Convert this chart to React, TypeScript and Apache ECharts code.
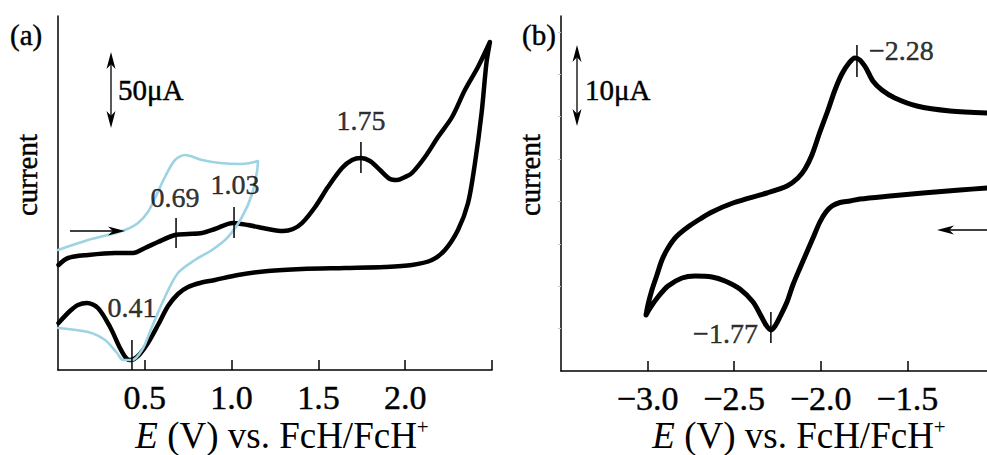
import React, { useEffect, useRef } from 'react';
import * as echarts from 'echarts';

const FONT = "'Liberation Serif', 'Times New Roman', serif";

// Panel (a): potential (V) vs current (a.u., 50 µA ≈ 76 units)
const xTicksA = [0.5, 1.0, 1.5, 2.0, 2.5];
const xLabelsA = [0.5, 1.0, 1.5, 2.0];
// Panel (b)
const xTicksB = [-3.0, -2.5, -2.0, -1.5];
const xLabelsB = [-3.0, -2.5, -2.0, -1.5];
const yTicksB = [42.4, 84.8, 127.2, 169.6, 212, 254.4, 296.8, 339.2];

const blackA: number[][] = [
  [0.003, 105], [0.058, 112], [0.173, 115], [0.328, 117], [0.432, 117], [0.501, 122], [0.576, 128],
  [0.674, 135], [0.749, 136], [0.829, 137], [0.904, 141], [1.008, 147], [1.094, 145], [1.210, 141],
  [1.296, 139], [1.354, 141], [1.406, 147], [1.481, 163], [1.555, 183], [1.636, 202], [1.694, 210],
  [1.745, 212], [1.797, 209], [1.855, 200], [1.912, 191], [1.953, 190], [1.999, 193], [2.039, 197],
  [2.114, 213], [2.189, 233], [2.270, 253], [2.344, 280], [2.419, 303], [2.488, 328],
  [2.468, 307], [2.440, 257], [2.402, 207], [2.362, 167], [2.304, 140], [2.229, 120], [2.154, 110],
  [2.039, 105], [1.884, 103], [1.653, 102], [1.406, 101], [1.210, 99], [1.037, 95], [0.904, 90],
  [0.818, 87], [0.749, 83], [0.691, 76], [0.634, 64], [0.576, 45], [0.518, 27], [0.472, 16],
  [0.438, 11], [0.415, 10], [0.392, 12], [0.357, 22], [0.300, 43], [0.230, 62], [0.167, 67],
  [0.115, 65], [0.069, 59], [0.003, 47],
];

const blueA: number[][] = [
  [0.000, 120], [0.173, 130], [0.288, 135], [0.386, 140], [0.461, 147], [0.518, 158], [0.559, 172],
  [0.616, 193], [0.674, 210], [0.732, 215], [0.829, 210], [0.933, 207], [1.048, 206], [1.106, 207],
  [1.152, 209],
  [1.146, 198], [1.118, 176], [1.060, 153], [0.979, 133], [0.887, 120], [0.789, 110], [0.691, 97],
  [0.616, 73], [0.541, 43], [0.484, 20], [0.426, 10], [0.374, 10], [0.340, 17], [0.271, 30],
  [0.173, 38], [0.000, 42],
];

const blackB: number[][] = [
  [-1.040, 183], [-1.196, 181], [-1.410, 178], [-1.600, 175], [-1.774, 172], [-1.831, 170],
  [-1.889, 168.5], [-1.935, 165], [-1.970, 159], [-2.005, 149], [-2.045, 133], [-2.080, 119],
  [-2.120, 103], [-2.161, 86], [-2.195, 69], [-2.236, 54], [-2.264, 45], [-2.288, 41], [-2.316, 46],
  [-2.351, 57], [-2.391, 69], [-2.467, 82], [-2.553, 90], [-2.628, 94], [-2.726, 95], [-2.801, 93],
  [-2.882, 85], [-2.940, 74], [-2.986, 63], [-3.009, 56], [-2.998, 66], [-2.975, 81], [-2.946, 96],
  [-2.917, 111], [-2.882, 123], [-2.836, 134], [-2.767, 144], [-2.697, 152], [-2.628, 159],
  [-2.507, 168], [-2.311, 178], [-2.195, 185], [-2.132, 193], [-2.091, 202], [-2.051, 216],
  [-2.005, 239], [-1.958, 261], [-1.918, 281], [-1.878, 297], [-1.837, 308], [-1.803, 313],
  [-1.774, 311], [-1.739, 303], [-1.699, 290], [-1.647, 281], [-1.572, 273], [-1.445, 265],
  [-1.254, 260], [-1.040, 258],
];

// peak markers: [x, yLow, yHigh]
const peakTicksA: number[][] = [[0.680, 122, 152], [1.014, 132, 163], [1.745, 197, 228], [0.426, 0, 30]];
const peakTextA = ['0.69', '1.03', '1.75', '0.41'];
const peakLabelPosA: number[][] = [[0.674, 172.5], [1.020, 186], [1.745, 250], [0.426, 63]];

const peakTicksB: number[][] = [[-1.791, 294, 326], [-2.288, 28, 59]];
const peakTextB = ['\u22122.28', '\u22121.77'];
const peakLabelPosB: number[][] = [[-1.534, 321], [-2.550, 38]];

const fmt = (v: number) => v.toFixed(1).replace('-', '\u2212');
const BW = 0.45; // slight text emboldening

function head(tx: number, ty: number, dx: number, dy: number, L = 17, W = 9) {
  const px = -dy, py = dx;
  const bx = tx - dx * L, by = ty - dy * L;
  const nx = tx - dx * L * 0.72, ny = ty - dy * L * 0.72;
  return {
    type: 'polygon',
    shape: { points: [[tx, ty], [bx + px * W / 2, by + py * W / 2], [nx, ny], [bx - px * W / 2, by - py * W / 2]] },
    style: { fill: '#000' },
    z: 100,
  };
}
function line(x1: number, y1: number, x2: number, y2: number, w = 1.3) {
  return { type: 'line', shape: { x1, y1, x2, y2 }, style: { stroke: '#000', lineWidth: w }, z: 100 };
}
function txt(text: string, x: number, y: number, size: number, opts: any = {}) {
  const style: any = {
    text, fontSize: size, fontFamily: FONT, fill: '#000', align: opts.align || 'left', verticalAlign: 'middle',
  };
  if (opts.rich) style.rich = opts.rich;
  else { style.stroke = '#000'; style.lineWidth = BW; }
  return { type: 'text', x, y, rotation: opts.rotation || 0, z: 100, style };
}
const titleRich = {
  i: { fontStyle: 'italic', fontSize: 37, fontFamily: FONT, fill: '#000' },
  r: { fontSize: 37, fontFamily: FONT, fill: '#000' },
  s: { fontSize: 21, fontFamily: FONT, fill: '#000', verticalAlign: 'top' },
};
const TITLE = '{i|E}{r| (V) vs. FcH/FcH}{s|+}';

export default function App() {
  const ref = useRef<HTMLDivElement>(null);
  useEffect(() => {
    if (!ref.current) return;
    const chart = echarts.init(ref.current, undefined, { renderer: 'svg' });
    const axisCommon = {
      type: 'value',
      splitLine: { show: false },
      axisLine: { show: true, onZero: false, lineStyle: { color: '#000', width: 1.5 } },
    };
    const labelCommon = {
      fontSize: 34, fontFamily: FONT, color: '#000', margin: 10, textBorderColor: '#000', textBorderWidth: BW,
    };
    const tickSeries = (ticks: number[][], xi: number) =>
      ticks.map((t) => ({
        type: 'line', xAxisIndex: xi, yAxisIndex: xi, data: [[t[0], t[1]], [t[0], t[2]]],
        showSymbol: false, symbol: 'none', lineStyle: { color: '#000', width: 1.5 }, z: 10, silent: true,
      }));
    const labelSeries = (pos: number[][], texts: string[], xi: number) => ({
      type: 'scatter', xAxisIndex: xi, yAxisIndex: xi, symbolSize: 1,
      itemStyle: { color: 'rgba(0,0,0,0)' }, silent: true, z: 20,
      data: pos.map((p, i) => ({ name: texts[i], value: p })),
      label: {
        show: true, position: 'inside', formatter: '{b}', fontSize: 28, fontFamily: FONT, color: '#000',
        textBorderColor: '#000', textBorderWidth: BW,
      },
    });
    chart.setOption({
      animation: false,
      backgroundColor: '#fff',
      grid: [
        { left: 58, top: 16, width: 434, height: 354 },
        { left: 561, top: 16, width: 426, height: 355 },
      ],
      xAxis: [
        {
          ...axisCommon, gridIndex: 0, min: 0, max: 2.5, interval: 0.5,
          axisTick: { show: true, inside: true, length: 10, lineStyle: { color: '#000', width: 1.5 }, customValues: xTicksA },
          axisLabel: {
            ...labelCommon, customValues: xLabelsA,
            formatter: (v: number) => (xLabelsA.some((l) => Math.abs(l - v) < 1e-6) ? fmt(v) : ''),
          },
        },
        {
          ...axisCommon, gridIndex: 1, min: -3.5, max: -1.04, interval: 0.5,
          axisTick: { show: true, inside: true, length: 10, lineStyle: { color: '#000', width: 1.5 }, customValues: xTicksB },
          axisLabel: {
            ...labelCommon, customValues: xLabelsB,
            formatter: (v: number) => (xLabelsB.some((l) => Math.abs(l - v) < 1e-6) ? fmt(v) : ''),
          },
        },
      ],
      yAxis: [
        { ...axisCommon, gridIndex: 0, min: 0, max: 354, axisTick: { show: false }, axisLabel: { show: false } },
        {
          ...axisCommon, gridIndex: 1, min: 0, max: 355, interval: 42.4,
          axisTick: { show: true, length: 3, lineStyle: { color: '#c8c8c8', width: 1 }, customValues: yTicksB },
          axisLabel: { show: false },
        },
      ],
      series: [
        {
          type: 'line', xAxisIndex: 0, yAxisIndex: 0, data: blackA, smooth: 0.3, showSymbol: false, symbol: 'none',
          lineStyle: { color: '#000', width: 4.5, cap: 'round', join: 'round' }, z: 2,
        },
        {
          type: 'line', xAxisIndex: 0, yAxisIndex: 0, data: blueA, smooth: 0.3, showSymbol: false, symbol: 'none',
          lineStyle: { color: '#9dd3e2', width: 2.6, cap: 'round', join: 'round' }, z: 3,
        },
        {
          type: 'line', xAxisIndex: 1, yAxisIndex: 1, data: blackB, smooth: 0.3, showSymbol: false, symbol: 'none',
          lineStyle: { color: '#000', width: 5, cap: 'round', join: 'round' }, z: 2,
        },
        ...tickSeries(peakTicksA, 0),
        ...tickSeries(peakTicksB, 1),
        labelSeries(peakLabelPosA, peakTextA, 0),
        labelSeries(peakLabelPosB, peakTextB, 1),
      ],
      graphic: [
        txt('(a)', 10, 35, 29),
        txt('(b)', 522, 35, 29),
        txt('50\u03bcA', 118, 90, 29),
        txt('10\u03bcA', 585, 90, 29),
        txt('current', 27, 175, 29, { align: 'center', rotation: Math.PI / 2 }),
        txt('current', 530, 175, 29, { align: 'center', rotation: Math.PI / 2 }),
        txt(TITLE, 282, 435, 37, { align: 'center', rich: titleRich }),
        txt(TITLE, 799, 435, 37, { align: 'center', rich: titleRich }),
        // scale bar (a)
        line(111, 60, 111, 120),
        head(111, 52, 0, -1),
        head(111, 128, 0, 1),
        // scale bar (b)
        line(577, 53, 577, 118),
        head(577, 45, 0, -1),
        head(577, 126, 0, 1),
        // scan direction arrows
        line(70, 231, 115, 231),
        head(125, 231, 1, 0),
        line(947, 230, 987, 230),
        head(937, 230, -1, 0),
      ],
    });
    return () => chart.dispose();
  }, []);
  return <div ref={ref} style={{ width: 987, height: 455, position: 'absolute', left: 0, top: 0 }} />;
}
